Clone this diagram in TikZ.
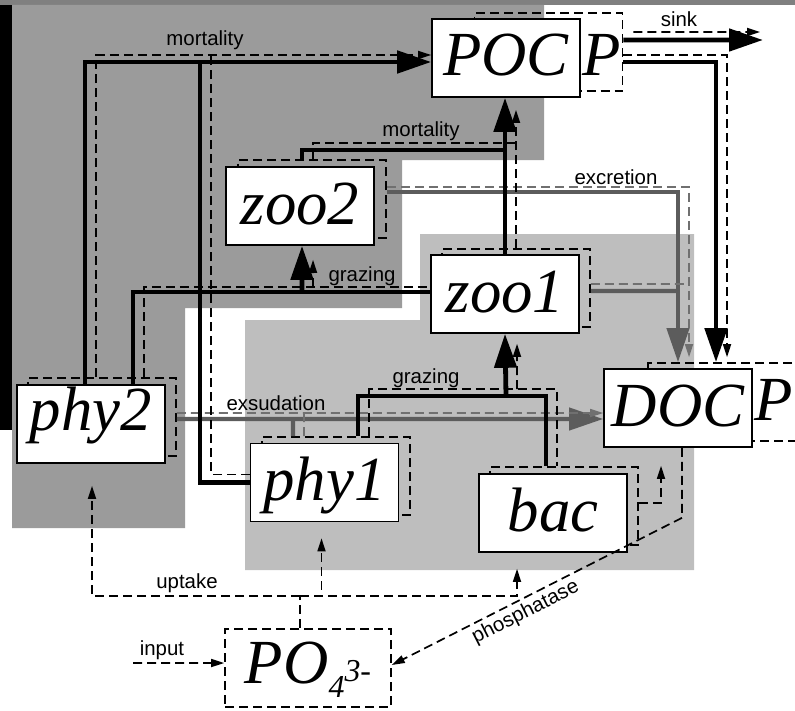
\documentclass[tikz,border=0pt]{standalone}
\usepackage{fontspec}
\setmainfont{Liberation Sans}
\newfontfamily\boxserif{Liberation Serif}
\usetikzlibrary{arrows.meta,positioning}
\definecolor{barGrey}{HTML}{808080}
\definecolor{regDark}{HTML}{9B9B9B}
\definecolor{regLight}{HTML}{BEBEBE}
\definecolor{flowGrey}{HTML}{5C5C5C}
\definecolor{flowGreyP}{HTML}{707070}

\begin{document}
\begin{tikzpicture}[x=1bp,y=-1bp,every node/.style={font=\fontsize{20.5}{22}\selectfont},
    cbox/.style={draw,fill=white,line width=1.6bp,minimum width=148bp,minimum height=78bp,inner sep=0pt,
      text height=42bp,text depth=6bp,font=\boxserif\itshape\fontsize{63}{63}\selectfont},
    pbox/.style={draw,dash pattern=on 9bp off 5bp,line width=1.6bp,minimum width=148bp,minimum height=78bp,inner sep=0pt},
    pchar/.style={font=\boxserif\itshape\fontsize{63}{63}\selectfont,inner sep=1bp},
    cflow/.style={line width=4.8bp},
    pflow/.style={dash pattern=on 9bp off 5bp,line width=1.7bp},
    gflow/.style={draw=flowGrey,line width=4.2bp},
    gpflow/.style={draw=flowGreyP,dash pattern=on 9bp off 5bp,line width=1.7bp},
    bigtip/.style={-{Triangle[length=34bp,width=22bp]}},
    smalltip/.style={-{Triangle[length=13bp,width=8bp]}}]
  \useasboundingbox (0,0) rectangle (795,711);
  % shaded regions
  \fill[barGrey] (0,0) rectangle (795,5);
  \fill[black] (0,5) rectangle (12,430);
  \fill[regDark] (12,5) -- (544,5) -- (544,160) -- (402,160) -- (402,308) -- (185,308) -- (185,528) -- (12,528) -- cycle;
  \fill[regLight] (420,234) -- (694,234) -- (694,570) -- (245,570) -- (245,320) -- (420,320) -- cycle;

  % phosphorus pools (dashed) behind the carbon pools
  \node[pbox] (pocP) at (548.5,52) {};
  \node[pbox,minimum width=152bp] (docP) at (724,402) {};
  \node[pbox] (zoo2P) at (312,199) {};
  \node[pbox] (zoo1P) at (516,288) {};
  \node[pbox] (phy2P) at (102,417) {};
  \node[pbox] (phy1P) at (336,476) {};
  \node[pbox] (bacP) at (564,506) {};
  \node[pbox,minimum width=166bp,font=\boxserif\itshape\fontsize{63}{63}\selectfont,text height=42bp,text depth=12bp] (po4) at (308,668)
    {PO\raisebox{-14bp}{\fontsize{32}{32}\selectfont 4}\raisebox{2bp}{\fontsize{32}{32}\selectfont 3-}};

  % carbon pools
  \node[cbox,label={[pchar,yshift=3bp]east:P}] (poc) at ([shift={(-42.5,6)}]pocP.center) {POC};
  \node[cbox,label={[pchar,yshift=8bp]east:P}] (doc) at ([shift={(-46,6)}]docP.center) {DOC};
  \node[cbox] (zoo2) at ([shift={(-12,7)}]zoo2P.center) {zoo2};
  \node[cbox] (zoo1) at ([shift={(-11,6)}]zoo1P.center) {zoo1};
  \node[cbox,text depth=30bp] (phy2) at ([shift={(-11,7)}]phy2P.center) {phy2};
  \node[cbox] (phy1) at ([shift={(-11.5,6.5)}]phy1P.center) {phy1};
  \node[cbox] (bac) at ([shift={(-11,7)}]bacP.center) {bac};

  % junctions
  \coordinate (jMortC) at (200,62);
  \coordinate (jMortP) at (211,55);
  \coordinate (jZMortC) at (506,150);
  \coordinate (jZMortP) at (517,143);
  \coordinate (pocTipP) at (516,110);
  \coordinate (jExcC) at (678,291);
  \coordinate (jExcP) at (689,284);
  \coordinate (sinkC) at (763,40);
  \coordinate (sinkP) at (760,32);
  \coordinate (jGrz2C) at (302,292);
  \coordinate (jGrz2P) at (313,287);
  \coordinate (jGrz1C) at (506,396);
  \coordinate (jGrz1P) at (517,389);
  \coordinate (jExsC) at (293,419);
  \coordinate (jExsP) at (304,413);
  \coordinate (inSrc) at (133,663);

  % excretion and exsudation (grey)
  \draw[gflow,bigtip] ([yshift=7bp]zoo2P.east) -| ([xshift=-46bp]docP.north);
  \draw[gflow] ([yshift=-3bp]zoo1P.east) -- (jExcC);
  \draw[gpflow,smalltip] ([yshift=12bp]zoo2P.east) -| ([xshift=-35bp,yshift=5bp]docP.north);
  \draw[gpflow] ([yshift=4bp]zoo1P.east) -- (jExcP);
  \draw[gflow,bigtip] ([yshift=-2bp]phy2P.east) -- ([yshift=-11bp]doc.west);
  \draw[gflow] ([xshift=-43bp]phy1P.north) -- (jExsC);
  \draw[gpflow,smalltip] ([yshift=4bp]phy2P.east) -- ([yshift=-5bp]doc.west);
  \draw[gpflow] ([xshift=-32bp]phy1P.north) -- (jExsP);

  % mortality
  \draw[cflow,bigtip] ([xshift=-6bp]phy2.north) |- ([yshift=-4bp]poc.west);
  \draw[cflow] (phy1.west) -| (jMortC);
  \draw[pflow,smalltip] ([xshift=-6bp]phy2P.north) |- ([yshift=3bp]poc.west);
  \draw[pflow] ([yshift=8bp]phy1.west) -| (jMortP);
  \draw[cflow] ([xshift=-10bp]zoo2P.north) |- (jZMortC);
  \draw[pflow] ([xshift=1bp]zoo2P.north) |- (jZMortP);
  \draw[cflow,bigtip] (zoo1.north) -- (zoo1.north |- poc.south);
  \draw[pflow,smalltip] (zoo1P.north) -- (pocTipP);

  % sinking
  \draw[cflow,bigtip] ([yshift=12bp]pocP.east) -- (sinkC);
  \draw[pflow,smalltip] ([xshift=10bp,yshift=20bp]pocP.east) -- (sinkP);
  \draw[cflow,bigtip] ([yshift=-10bp]pocP.east) -| ([xshift=-8bp]docP.north);
  \draw[pflow,smalltip] ([yshift=-3bp]pocP.east) -| ([xshift=3bp,yshift=5bp]docP.north);

  % grazing
  \draw[cflow] ([xshift=42bp]phy2.north) |- ([yshift=2bp]zoo1.west);
  \draw[cflow,bigtip] (jGrz2C) -- ([xshift=2bp]zoo2.south);
  \draw[pflow] ([xshift=42bp]phy2P.north) |- ([yshift=7bp]zoo1.west);
  \draw[pflow,smalltip] (jGrz2P) -- ([xshift=13bp,yshift=-14bp]zoo2.south);
  \draw[cflow] ([xshift=22bp]phy1P.north) |- (jGrz1C) -| ([xshift=-18bp]bacP.north);
  \draw[cflow,bigtip] (jGrz1C) -- (zoo1.south);
  \draw[pflow] ([xshift=33bp]phy1P.north) |- (jGrz1P) -| ([xshift=-7bp]bacP.north);
  \draw[pflow,smalltip] (jGrz1P) -- ([xshift=12bp,yshift=-10bp]zoo1.south);

  % bacteria, phosphatase, uptake, input
  \draw[pflow,smalltip] ([yshift=3bp]bacP.east) -| ([xshift=-17bp,yshift=-18bp]doc.south);
  \draw[pflow,smalltip] ([xshift=4bp]doc.south) -- ++(0,70)
    -- node[sloped,below,pos=0.56] (labPhos) {phosphatase} ([yshift=3bp]po4.east);
  \draw[pflow] ([xshift=-8bp]po4.north) -- ++(0,-32) coordinate (jUp);
  \draw[pflow,smalltip] (jUp) -| ([xshift=1bp,yshift=-22bp]phy2.south);
  \draw[pflow,smalltip] (jUp) -| ([xshift=-3bp,yshift=-16bp]phy1.south);
  \draw[pflow,smalltip] (jUp) -| ([xshift=-36bp,yshift=-16bp]bac.south);
  \draw[pflow,smalltip] (inSrc) -- ([yshift=5bp]po4.west);

  % flow labels
  \node (labMortA) at (205,40) {mortality};
  \node (labMortB) at (421,131) {mortality};
  \node (labExc) at (616,177) {excretion};
  \node (labSink) at (679,19) {sink};
  \node (labGrzA) at (362,276) {grazing};
  \node (labGrzB) at (426,378) {grazing};
  \node (labExs) at (276,403) {exsudation};
  \node (labUp) at (187,583) {uptake};
  \node (labIn) at (162,650) {input};
\end{tikzpicture}
\end{document}
